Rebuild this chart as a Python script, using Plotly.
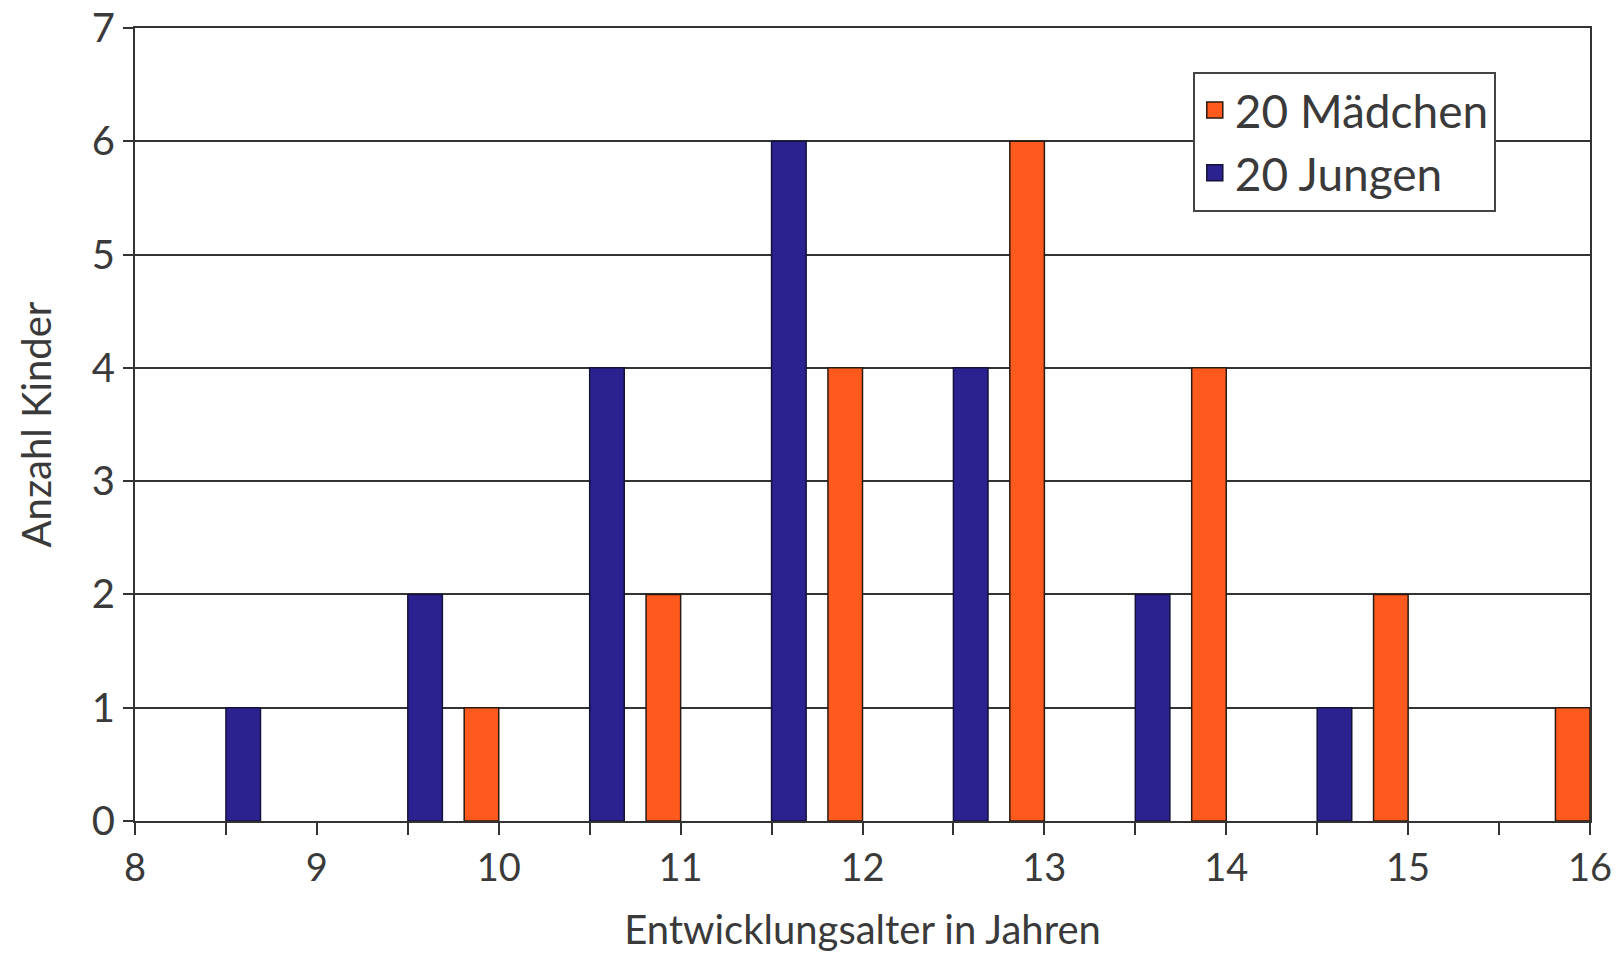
import plotly.graph_objects as go

# Counts per developmental age (upper edge of each one-year bin)
alter_jungen = [9, 10, 11, 12, 13, 14, 15]
anzahl_jungen = [1, 2, 4, 6, 4, 2, 1]

alter_maedchen = [10, 11, 12, 13, 14, 15, 16]
anzahl_maedchen = [1, 2, 4, 6, 4, 2, 1]

x_tickvals = [8, 8.5, 9, 9.5, 10, 10.5, 11, 11.5, 12, 12.5, 13, 13.5, 14, 14.5, 15, 15.5, 16]
x_ticktext = ["8", "", "9", "", "10", "", "11", "", "12", "", "13", "", "14", "", "15", "", "16"]
y_tickvals = [0, 1, 2, 3, 4, 5, 6, 7]

FONT = "Lato, 'Open Sans', sans-serif"
TEXT = "#3a3a3a"
ORANGE = "#ff5a1e"
BLUE = "#2b2290"
ORANGE_EDGE = "#2a1a10"
BLUE_EDGE = "#15123a"

fig = go.Figure()
fig.add_trace(go.Bar(
    x=alter_maedchen, y=anzahl_maedchen, name="20 Mädchen", showlegend=False,
    width=0.19, offset=-0.19,
    marker=dict(color=ORANGE, line=dict(color=ORANGE_EDGE, width=1.5)),
))
fig.add_trace(go.Bar(
    x=alter_jungen, y=anzahl_jungen, name="20 Jungen", showlegend=False,
    width=0.19, offset=-0.5,
    marker=dict(color=BLUE, line=dict(color=BLUE_EDGE, width=1.5)),
))

# Legend entries with square swatches
for name, fill, edge in [("20 Mädchen", ORANGE, ORANGE_EDGE), ("20 Jungen", BLUE, BLUE_EDGE)]:
    fig.add_trace(go.Scatter(
        x=[None], y=[None], mode="markers", name=name,
        marker=dict(symbol="square", size=26, color=fill, line=dict(color=edge, width=1.5)),
    ))

fig.update_layout(
    width=1624, height=958,
    margin=dict(l=135, r=34, t=28, b=137, autoexpand=False),
    paper_bgcolor="white", plot_bgcolor="white",
    barmode="overlay",
    font=dict(family=FONT, size=40, color=TEXT),
    showlegend=True,
    legend=dict(
        x=0.727, y=0.945, xanchor="left", yanchor="top",
        bgcolor="white", bordercolor="#444444", borderwidth=2,
        font=dict(family=FONT, size=46, color=TEXT),
        traceorder="normal", itemwidth=30,
    ),
    xaxis=dict(
        range=[8, 16], tickmode="array", tickvals=x_tickvals, ticktext=x_ticktext,
        ticks="outside", ticklen=12, tickwidth=2, tickcolor="#333333",
        showline=True, linecolor="#333333", linewidth=2, mirror=True,
        showgrid=False, zeroline=False, automargin=False,
        tickfont=dict(family=FONT, size=38, color=TEXT),
        title=dict(text="Entwicklungsalter in Jahren", standoff=28,
                   font=dict(family=FONT, size=40, color=TEXT)),
    ),
    yaxis=dict(
        range=[0, 7], tickmode="array", tickvals=y_tickvals,
        ticks="outside", ticklen=10, tickwidth=2, tickcolor="#333333",
        showline=True, linecolor="#333333", linewidth=2, mirror=True,
        showgrid=True, gridcolor="#333333", gridwidth=2, zeroline=False,
        automargin=False,
        tickfont=dict(family=FONT, size=40, color=TEXT),
        title=dict(text="Anzahl Kinder", standoff=28,
                   font=dict(family=FONT, size=40, color=TEXT)),
    ),
)

fig.write_html("out.html")
